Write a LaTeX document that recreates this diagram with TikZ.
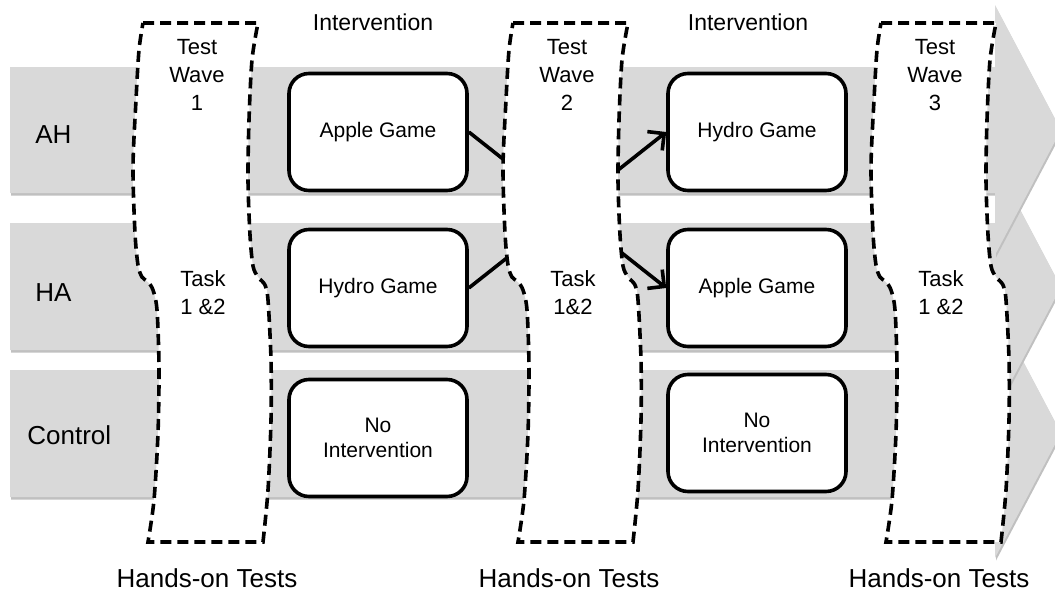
\documentclass[tikz,border=0pt]{standalone}
\usepackage{fontspec}
\setmainfont{Liberation Sans}
\usetikzlibrary{arrows.meta}
\definecolor{bandgray}{RGB}{217,217,217}
\definecolor{bandshade}{RGB}{192,192,192}

\begin{document}
\begin{tikzpicture}[
    x=0.5pt, y=-0.5pt,
    group/.style={anchor=west, inner sep=0pt, font=\fontsize{13}{15}\selectfont},
    game/.style={draw, line width=1.8pt, rounded corners=10pt, fill=white,
        minimum width=89pt, minimum height=58.5pt, align=center,
        font=\fontsize{10.5}{12.5}\selectfont},
    wave/.style={draw, line width=1.8pt, dash pattern=on 5.5pt off 3pt, fill=white},
    wavetext/.style={align=center, font=\fontsize{11}{14}\selectfont},
    head/.style={font=\fontsize{11.5}{14}\selectfont},
    foot/.style={font=\fontsize{13}{15}\selectfont},
    link/.style={line width=1.8pt, -{Straight Barb[length=6pt, width=12pt]}}
]
\useasboundingbox (0,0) rectangle (1055,595);

% group bands
\foreach \t/\b/\c in {370/497/433, 223/350/287, 67/193/130} {
    \fill[bandshade, shift={(1,2.5)}] (10,\t) -- (995,\t) -- (995,\c-125) -- (1061,\c)
        -- (995,\c+125) -- (995,\b) -- (10,\b) -- cycle;
    \fill[bandgray] (10,\t) -- (995,\t) -- (995,\c-125) -- (1061,\c)
        -- (995,\c+125) -- (995,\b) -- (10,\b) -- cycle;
}

% games
\node[game] (apple1) at (378,132) {Apple Game};
\node[game] (hydro1) at (378,288) {Hydro Game};
\node[game] (none1) at (378,438) {No\\Intervention};
\node[game] (hydro2) at (757,132) {Hydro Game};
\node[game] (apple2) at (757,288) {Apple Game};
\node[game] (none2) at (757,433) {No\\Intervention};

\draw[link] (apple1.east) -- (apple2.west);
\draw[link] (hydro1.east) -- (hydro2.west);

% test waves
\foreach \dx/\n/\tk in {0/1/{1 \&2}, 370/2/{1\&2}, 738/3/{1 \&2}} {
    \begin{scope}[shift={(\dx,0)}]
        \draw[wave] (143,23) -- plot[smooth, tension=0.5] coordinates {(258,23) (252,60)
            (249,120) (248,180) (250,235) (253,266) (258,277) (265,285) (268,300)
            (271,360) (271,420) (268,490) (263,542)}
            -- plot[smooth, tension=0.5] coordinates {(148,542) (154,500) (158,433)
            (159,367) (157,310) (153,290) (148,282) (142,277) (138,265) (135,233)
            (133,167) (136,100) (139,50) (143,23)} -- cycle;
        \node[wavetext] (test\n) at (197,75) {Test\\Wave\\\n};
        \node[wavetext] (task\n) at (203,293) {Task\\\tk};
    \end{scope}
}

\node[head] (int1) at (373,22) {Intervention};
\node[head] (int2) at (748,22) {Intervention};

\node[group] (ah) at (35,135) {AH};
\node[group] (ha) at (35,293) {HA};
\node[group] (ctrl) at (27,435) {Control};

\node[foot] (hot1) at (207,578) {Hands-on Tests};
\node[foot] (hot2) at (569,578) {Hands-on Tests};
\node[foot] (hot3) at (939,578) {Hands-on Tests};
\end{tikzpicture}
\end{document}
